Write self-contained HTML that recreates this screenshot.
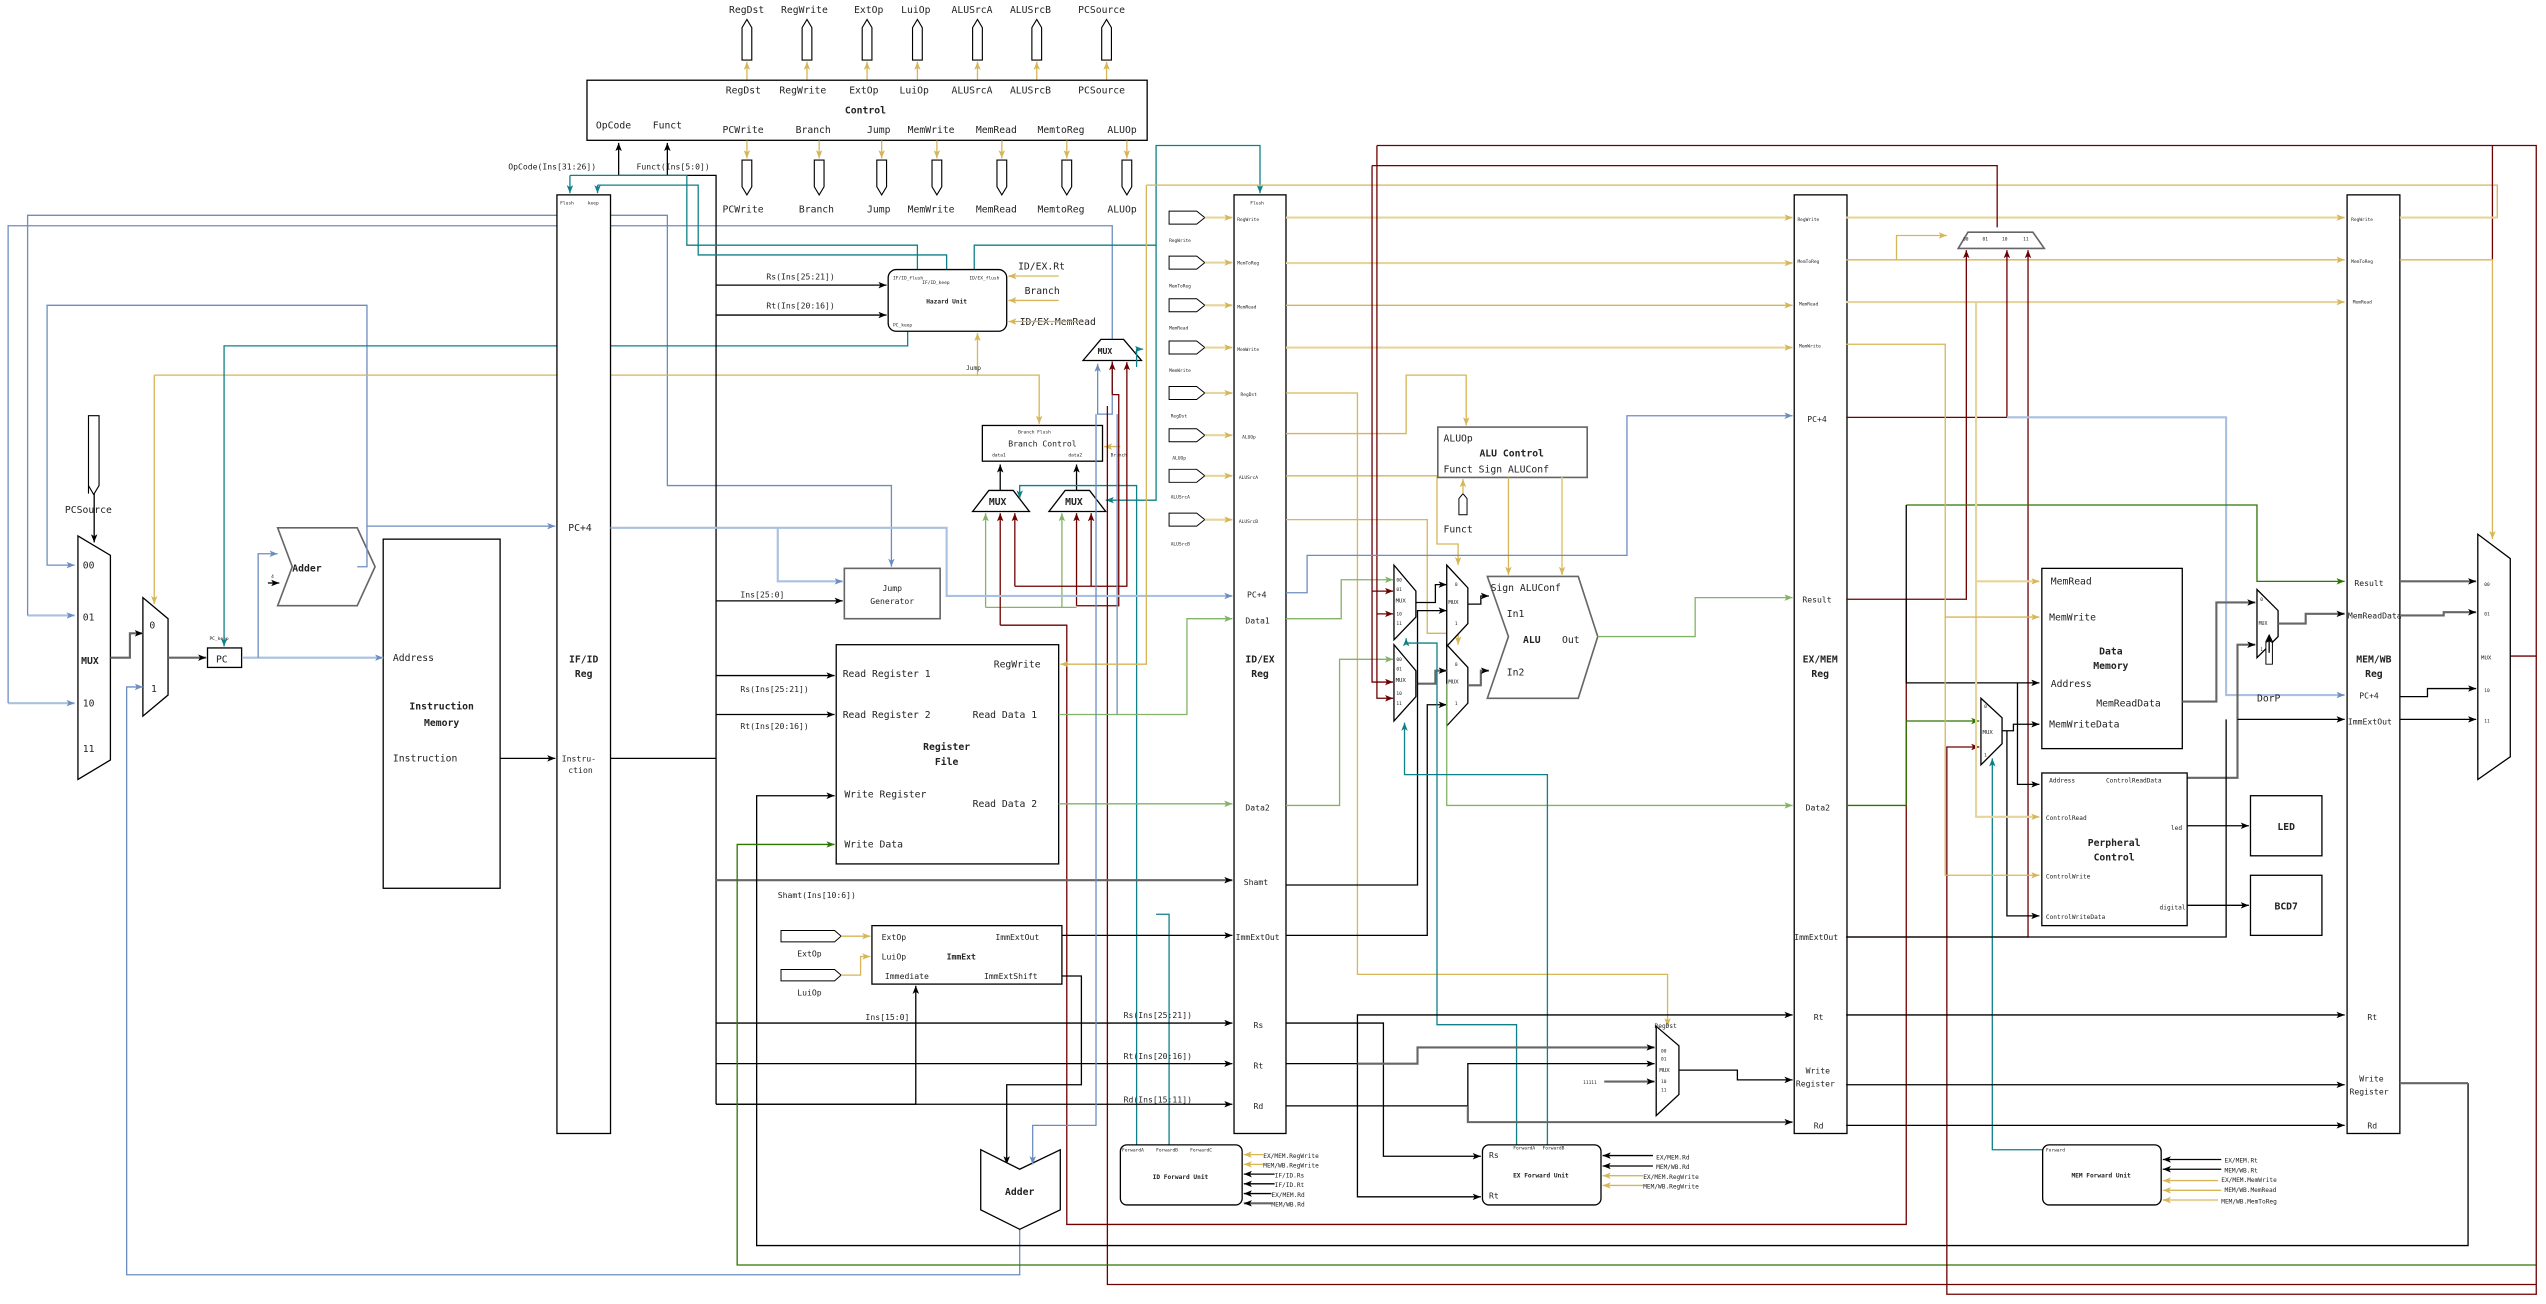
<!DOCTYPE html>
<html><head><meta charset="utf-8"><style>
html,body{margin:0;padding:0;background:#fff;}
svg{display:block;}
text{font-family:"DejaVu Sans Mono","Liberation Mono",monospace;fill:#222;}
.k{stroke:#000;fill:none;stroke-width:.8}
.kg{stroke:#666;fill:none;stroke-width:1.3}
.g{stroke:#d6b656;fill:none;stroke-width:.8}
.gl{stroke:#e6d49a;fill:none;stroke-width:1.3}
.b{stroke:#6c8ebf;fill:none;stroke-width:.8}
.bl{stroke:#a9c0e0;fill:none;stroke-width:1.3}
.t{stroke:#0e8088;fill:none;stroke-width:.8}
.r{stroke:#6f0000;fill:none;stroke-width:.8}
.gr{stroke:#82b366;fill:none;stroke-width:.8}
.dg{stroke:#2d7600;fill:none;stroke-width:.8}
.box{fill:#fff;stroke:#000;stroke-width:.8}
.boxg{fill:#fff;stroke:#666;stroke-width:1}
.s7{font-size:7px}.s6{font-size:6px}.s5{font-size:5px}.s4{font-size:3.8px}.s3{font-size:2.8px}
.bd{font-weight:bold}
</style></head><body>
<svg width="2546" height="1304" viewBox="0 0 1568 803" preserveAspectRatio="none" xmlns="http://www.w3.org/2000/svg">
<defs>
<marker id="ak" markerWidth="5" markerHeight="4" refX="5" refY="2" orient="auto" markerUnits="userSpaceOnUse"><path d="M0,0L5,2L0,4L1.2,2Z" fill="#000"/></marker>
<marker id="ag" markerWidth="5" markerHeight="4" refX="5" refY="2" orient="auto" markerUnits="userSpaceOnUse"><path d="M0,0L5,2L0,4L1.2,2Z" fill="#d6b656"/></marker>
<marker id="ab" markerWidth="5" markerHeight="4" refX="5" refY="2" orient="auto" markerUnits="userSpaceOnUse"><path d="M0,0L5,2L0,4L1.2,2Z" fill="#6c8ebf"/></marker>
<marker id="at" markerWidth="5" markerHeight="4" refX="5" refY="2" orient="auto" markerUnits="userSpaceOnUse"><path d="M0,0L5,2L0,4L1.2,2Z" fill="#0e8088"/></marker>
<marker id="ar" markerWidth="5" markerHeight="4" refX="5" refY="2" orient="auto" markerUnits="userSpaceOnUse"><path d="M0,0L5,2L0,4L1.2,2Z" fill="#6f0000"/></marker>
<marker id="agr" markerWidth="5" markerHeight="4" refX="5" refY="2" orient="auto" markerUnits="userSpaceOnUse"><path d="M0,0L5,2L0,4L1.2,2Z" fill="#82b366"/></marker>
<marker id="adg" markerWidth="5" markerHeight="4" refX="5" refY="2" orient="auto" markerUnits="userSpaceOnUse"><path d="M0,0L5,2L0,4L1.2,2Z" fill="#2d7600"/></marker>
</defs>

<!-- ===== Control unit ===== -->
<g class="s6">
<text x="449" y="8">RegDst</text><text x="481" y="8">RegWrite</text><text x="526" y="8">ExtOp</text><text x="555" y="8">LuiOp</text><text x="586" y="8">ALUSrcA</text><text x="622" y="8">ALUSrcB</text><text x="664" y="8">PCSource</text>
</g>
<g fill="#fff" stroke="#000" stroke-width=".7">
<path d="M457,37V17L460,12L463,17V37Z"/><path d="M494,37V17L497,12L500,17V37Z"/><path d="M531,37V17L534,12L537,17V37Z"/><path d="M562,37V17L565,12L568,17V37Z"/><path d="M599,37V17L602,12L605,17V37Z"/><path d="M635.5,37V17L638.5,12L641.5,17V37Z"/><path d="M678.5,37V17L681.5,12L684.5,17V37Z"/>
</g>
<g class="g">
<path d="M460,49V38" marker-end="url(#ag)"/><path d="M497,49V38" marker-end="url(#ag)"/><path d="M534,49V38" marker-end="url(#ag)"/><path d="M565,49V38" marker-end="url(#ag)"/><path d="M602,49V38" marker-end="url(#ag)"/><path d="M638.5,49V38" marker-end="url(#ag)"/><path d="M681.5,49V38" marker-end="url(#ag)"/>
</g>
<rect x="361.5" y="49.4" width="345" height="37" class="box"/>
<g class="s6">
<text x="447" y="57.5">RegDst</text><text x="480" y="57.5">RegWrite</text><text x="523" y="57.5">ExtOp</text><text x="554" y="57.5">LuiOp</text><text x="586" y="57.5">ALUSrcA</text><text x="622" y="57.5">ALUSrcB</text><text x="664" y="57.5">PCSource</text>
<text x="533" y="70" text-anchor="middle" class="bd">Control</text>
<text x="367" y="79">OpCode</text><text x="402" y="79">Funct</text>
<text x="445" y="82">PCWrite</text><text x="490" y="82">Branch</text><text x="534" y="82">Jump</text><text x="559" y="82">MemWrite</text><text x="601" y="82">MemRead</text><text x="639" y="82">MemtoReg</text><text x="682" y="82">ALUOp</text>
</g>
<g class="g">
<path d="M460,86.5V97.5" marker-end="url(#ag)"/><path d="M504.5,86.5V97.5" marker-end="url(#ag)"/><path d="M543,86.5V97.5" marker-end="url(#ag)"/><path d="M577,86.5V97.5" marker-end="url(#ag)"/><path d="M617,86.5V97.5" marker-end="url(#ag)"/><path d="M657,86.5V97.5" marker-end="url(#ag)"/><path d="M694,86.5V97.5" marker-end="url(#ag)"/>
</g>
<g fill="#fff" stroke="#000" stroke-width=".7">
<path d="M457,98.6H463V115L460,120L457,115Z"/><path d="M501.5,98.6H507.5V115L504.5,120L501.5,115Z"/><path d="M540,98.6H546V115L543,120L540,115Z"/><path d="M574,98.6H580V115L577,120L574,115Z"/><path d="M614,98.6H620V115L617,120L614,115Z"/><path d="M654,98.6H660V115L657,120L654,115Z"/><path d="M691,98.6H697V115L694,120L691,115Z"/>
</g>
<g class="s6">
<text x="445" y="131">PCWrite</text><text x="492" y="131">Branch</text><text x="534" y="131">Jump</text><text x="559" y="131">MemWrite</text><text x="601" y="131">MemRead</text><text x="639" y="131">MemtoReg</text><text x="682" y="131">ALUOp</text>
</g>
<text x="313" y="104.5" class="s5">OpCode(Ins[31:26])</text>
<text x="392" y="104.5" class="s5">Funct(Ins[5:0])</text>

<!-- ===== IF stage ===== -->
<path d="M54.5,304V256H61V299L57.7,304.5L54.5,299Z" fill="#fff" stroke="#000" stroke-width=".7"/>
<text x="40" y="316" class="s6">PCSource</text>
<path d="M58,304V334" class="k" marker-end="url(#ak)"/>
<path d="M48,330L68,342V468L48,480Z" class="box"/>
<g class="s6"><text x="51" y="350">00</text><text x="51" y="382">01</text><text x="50" y="409" class="bd">MUX</text><text x="51" y="435">10</text><text x="51" y="463">11</text></g>
<path d="M88,368L103.5,381V428L88,441Z" class="box"/>
<text x="92" y="387" class="s6">0</text><text x="93" y="426" class="s6">1</text>
<path d="M68,405H80V390H88" class="kg" marker-end="url(#ak)"/>
<path d="M103.5,405H127" class="kg" marker-end="url(#ak)"/>
<rect x="127.8" y="399" width="21" height="12" class="box"/>
<text x="133" y="408" class="s6">PC</text>
<text x="129" y="394" class="s3">PC_keep</text>
<path d="M171,325H220L231,349L220,373H171L180,349Z" class="boxg" stroke-width="1"/>
<text x="180" y="352" class="s6 bd">Adder</text>
<text x="167" y="356" class="s3">4</text>
<path d="M165,359H172" class="k" marker-end="url(#ak)"/>
<rect x="236" y="332" width="72" height="215" class="box"/>
<g class="s6"><text x="242" y="407">Address</text><text x="272" y="437" text-anchor="middle" class="bd">Instruction</text><text x="272" y="447" text-anchor="middle" class="bd">Memory</text><text x="242" y="469">Instruction</text></g>
<path d="M308,467H342" class="k" marker-end="url(#ak)"/>
<path d="M149,405H236" class="bl" marker-end="url(#ab)"/>
<path d="M159,405V341H171" class="b" marker-end="url(#ab)"/>
<path d="M220,349H226V188H29V348H46" class="b" marker-end="url(#ab)"/>
<path d="M226,324H342" class="b" marker-end="url(#ab)"/>
<path d="M17,379H46" class="bl" marker-end="url(#ab)"/>
<path d="M17,379V132.6H411V299H549V349" class="b" marker-end="url(#ab)"/>
<path d="M5,433H46" class="bl" marker-end="url(#ab)"/>
<path d="M5,433V139H685V255H676V224" class="b" marker-end="url(#ab)"/>
<path d="M628,757V785H78V423H88" class="b" marker-end="url(#ab)"/>
<path d="M95,231H640V261" class="g" marker-end="url(#ag)"/>
<path d="M95,231V372" class="g" marker-end="url(#ag)"/>
<path d="M559,204V213H138V398" class="t" marker-end="url(#at)"/>

<!-- ===== IF/ID ===== -->
<rect x="343" y="120" width="33" height="578" class="box"/>
<text x="345" y="126" class="s3">Flush</text><text x="362" y="126" class="s3">keep</text>
<text x="350" y="327" class="s6">PC+4</text>
<text x="359.5" y="408" class="s6 bd" text-anchor="middle">IF/ID</text><text x="359.5" y="417" class="s6 bd" text-anchor="middle">Reg</text>
<text x="346" y="469" class="s5">Instru-</text><text x="350" y="476" class="s5">ction</text>
<path d="M381,108V88" class="k" marker-end="url(#ak)"/><path d="M411,108V88" class="k" marker-end="url(#ak)"/>
<path d="M381,108H441V680" class="k"/>
<path d="M376,467H441" class="k" stroke-width="1.4"/>
<path d="M351,108V119" class="t" marker-end="url(#at)"/>
<path d="M351,108H423V151H565V166" class="t"/>
<path d="M368,114V119" class="t" marker-end="url(#at)"/>
<path d="M368,114H430V157H583V166" class="t"/>
<path d="M600,166V151H712V89.6H776V119" class="t" marker-end="url(#at)"/>

<!-- ===== ID stage ===== -->
<path d="M441,175.6H546" class="k" marker-end="url(#ak)"/>
<path d="M441,194H546" class="k" marker-end="url(#ak)"/>
<text x="472" y="172" class="s5">Rs(Ins[25:21])</text><text x="472" y="190" class="s5">Rt(Ins[20:16])</text>
<rect x="547" y="166" width="73" height="38" rx="5" class="box"/>
<text x="550" y="172" class="s3">IF/ID_flush</text><text x="568" y="175" class="s3">IF/ID_keep</text><text x="597" y="172" class="s3">ID/EX_flush</text>
<text x="583" y="187" class="s4 bd" text-anchor="middle" fill="#444">Hazard Unit</text>
<text x="550" y="201" class="s3">PC_keep</text>
<text x="627" y="166" class="s6">ID/EX.Rt</text><text x="631" y="181" class="s6">Branch</text><text x="628" y="200" class="s6">ID/EX.MemRead</text>
<path d="M652,170H621" class="gl" marker-end="url(#ag)"/>
<path d="M652,185H621" class="g" marker-end="url(#ag)"/>
<path d="M665,198H621" class="g" marker-end="url(#ag)"/>
<path d="M602,231V205" class="g" marker-end="url(#ag)"/>
<text x="595" y="228" class="s4">Jump</text>
<path d="M667,222L678,209H692L703,222Z" class="box"/>
<text x="676" y="218" class="s5 bd">MUX</text>
<rect x="605" y="262" width="74" height="22" class="box"/>
<text x="627" y="267" class="s3">Branch Flush</text>
<text x="642" y="275" class="s5" text-anchor="middle">Branch Control</text>
<text x="611" y="281" class="s3">data1</text><text x="658" y="281" class="s3">data2</text>
<path d="M690,275H680" class="g" marker-end="url(#ag)"/>
<text x="684" y="281" class="s3">Branch</text>
<path d="M599,315L609,302H624L634,315Z" class="box"/>
<text x="609" y="311" class="s6 bd">MUX</text>
<path d="M646,315L656,302H671L681,315Z" class="box"/>
<text x="656" y="311" class="s6 bd">MUX</text>
<path d="M616,302V286" class="k" marker-end="url(#ak)"/>
<path d="M663,302V286" class="k" marker-end="url(#ak)"/>
<path d="M700,705V299H628V307" class="t" marker-end="url(#at)"/>
<path d="M700,226V215H704" class="t" marker-end="url(#at)"/>
<path d="M712,151V308H681" class="t" marker-end="url(#at)"/>
<path d="M720,705V563H712" class="t"/>
<path d="M607,374V316" class="gr" marker-end="url(#agr)"/>
<path d="M607,374H663" class="gr"/>
<path d="M654,374V316" class="gr" marker-end="url(#agr)"/>
<path d="M625,361V316" class="r" marker-end="url(#ar)"/>
<path d="M625,361H694V223" class="r" marker-end="url(#ar)"/>
<path d="M672,361V316" class="r" marker-end="url(#ar)"/>
<path d="M663,373V316" class="r" marker-end="url(#ar)"/>
<path d="M685,243V223" class="r" marker-end="url(#ar)"/>
<path d="M616,385V316" class="r" marker-end="url(#ar)"/>
<path d="M685,243H689V373H663" class="r"/>
<path d="M682,250V791H1562" class="r"/>
<path d="M616,385H657V754H1174V369" class="r"/>
<path d="M688,440V255" class="b"/>
<rect x="520" y="350" width="59" height="31" class="boxg"/>
<text x="549.5" y="364" class="s5" text-anchor="middle">Jump</text><text x="549.5" y="372" class="s5" text-anchor="middle">Generator</text>
<path d="M441,370H519" class="k" marker-end="url(#ak)"/>
<text x="456" y="368" class="s5">Ins[25:0]</text>
<path d="M376,325H583V367H759" class="bl" marker-end="url(#ab)"/>
<path d="M479,325V358H519" class="bl" marker-end="url(#ab)"/>
<!-- Register file -->
<rect x="515" y="397" width="137" height="135" class="box"/>
<g class="s6">
<text x="519" y="417">Read Register 1</text><text x="612" y="411">RegWrite</text>
<text x="519" y="442">Read Register 2</text><text x="599" y="442">Read Data 1</text>
<text x="583" y="462" text-anchor="middle" class="bd">Register</text><text x="583" y="471" text-anchor="middle" class="bd">File</text>
<text x="520" y="491">Write Register</text><text x="599" y="497">Read Data 2</text><text x="520" y="522">Write Data</text>
</g>
<path d="M441,416H514" class="k" marker-end="url(#ak)"/>
<path d="M441,440H514" class="k" marker-end="url(#ak)"/>
<text x="456" y="426" class="s5">Rs(Ins[25:21])</text><text x="456" y="449" class="s5">Rt(Ins[20:16])</text>
<path d="M706,114V409H653" class="g" marker-end="url(#ag)"/>
<path d="M706,114H1538V134H1478" class="g"/>
<path d="M652,440H731V381H759" class="gr" marker-end="url(#agr)"/>
<path d="M652,495H759" class="gr" marker-end="url(#agr)"/>
<path d="M441,542H759" class="kg" marker-end="url(#ak)"/>
<text x="479" y="553" class="s5">Shamt(Ins[10:6])</text>
<!-- ImmExt -->
<path d="M481,573H514L518,576.5L514,580H481Z" fill="#fff" stroke="#000" stroke-width=".6"/>
<path d="M481,597H514L518,600.5L514,604H481Z" fill="#fff" stroke="#000" stroke-width=".6"/>
<text x="491" y="589" class="s5">ExtOp</text><text x="491" y="613" class="s5">LuiOp</text>
<path d="M518,576.5H536" class="g" marker-end="url(#ag)"/>
<path d="M518,600.5H530V589H536" class="g" marker-end="url(#ag)"/>
<rect x="537" y="570" width="117" height="36" class="box"/>
<g class="s5"><text x="543" y="579">ExtOp</text><text x="613" y="579">ImmExtOut</text><text x="543" y="591">LuiOp</text><text x="583" y="591" class="bd">ImmExt</text><text x="545" y="603">Immediate</text><text x="606" y="603">ImmExtShift</text></g>
<path d="M654,576H759" class="k" marker-end="url(#ak)"/>
<path d="M654,601H666V668H620V717" class="k" marker-end="url(#ak)"/>
<path d="M441,680H564V607" class="k" marker-end="url(#ak)"/>
<text x="533" y="628" class="s5">Ins[15:0]</text>
<path d="M441,630H759" class="k" marker-end="url(#ak)"/>
<path d="M441,655H759" class="k" marker-end="url(#ak)"/>
<path d="M441,680H759" class="k" marker-end="url(#ak)"/>
<text x="692" y="627" class="s5">Rs(Ins[25:21])</text><text x="692" y="652" class="s5">Rt(Ins[20:16])</text><text x="692" y="679" class="s5">Rd(Ins[15:11])</text>
<path d="M604,708L628,720L653,708V745L628,757L604,745Z" class="box"/>
<text x="628" y="736" class="s6 bd" text-anchor="middle">Adder</text>
<path d="M675,255V693H636V717" class="b" marker-end="url(#ab)"/>
<path d="M1520,667V767H466V490H514" class="k" marker-end="url(#ak)"/>
<path d="M1562,779H454V520H514" class="dg" marker-end="url(#adg)"/>
<!-- ID forward -->
<rect x="690" y="705" width="75" height="37" rx="4" class="box"/>
<text x="691" y="709" class="s3">ForwardA</text><text x="712" y="709" class="s3">ForwardB</text><text x="733" y="709" class="s3">ForwardC</text>
<text x="727" y="726" class="s4 bd" text-anchor="middle" fill="#444">ID Forward Unit</text>
<g class="s4"><text x="778" y="713">EX/MEM.RegWrite</text><text x="778" y="719">MEM/WB.RegWrite</text><text x="785" y="725">IF/ID.Rs</text><text x="785" y="731">IF/ID.Rt</text><text x="783" y="737">EX/MEM.Rd</text><text x="783" y="743">MEM/WB.Rd</text></g>
<path d="M778,711H766" class="g" marker-end="url(#ag)"/><path d="M778,717H766" class="g" marker-end="url(#ag)"/>
<path d="M785,723H766" class="k" marker-end="url(#ak)"/><path d="M785,729H766" class="k" marker-end="url(#ak)"/><path d="M783,735H766" class="k" marker-end="url(#ak)"/><path d="M783,741H766" class="kg" marker-end="url(#ak)"/>

<!-- ===== ID/EX ===== -->
<rect x="760" y="120" width="32" height="578" class="box"/>
<g fill="#fff" stroke="#000" stroke-width=".6">
<path d="M720,130H737L742,134L737,138H720Z"/><path d="M720,157.7H737L742,161.7L737,165.7H720Z"/><path d="M720,184H737L742,188L737,192H720Z"/><path d="M720,210H737L742,214L737,218H720Z"/><path d="M720,238H737L742,242L737,246H720Z"/><path d="M720,264H737L742,268L737,272H720Z"/><path d="M720,289H737L742,293L737,297H720Z"/><path d="M720,316H737L742,320L737,324H720Z"/>
</g>
<g class="s3"><text x="720" y="149">RegWrite</text><text x="720" y="177">MemToReg</text><text x="720" y="203">MemRead</text><text x="720" y="229">MemWrite</text><text x="721" y="257">RegDst</text><text x="722" y="283">ALUOp</text><text x="721" y="307">ALUSrcA</text><text x="721" y="336">ALUSrcB</text></g>
<g class="gl"><path d="M742,134H759" marker-end="url(#ag)"/><path d="M742,161.7H759" marker-end="url(#ag)"/><path d="M742,188H759" marker-end="url(#ag)"/><path d="M742,214H759" marker-end="url(#ag)"/><path d="M742,242H759" marker-end="url(#ag)"/><path d="M742,268H759" marker-end="url(#ag)"/><path d="M742,293H759" marker-end="url(#ag)"/><path d="M742,320H759" marker-end="url(#ag)"/></g>
<g class="s3"><text x="770" y="126">Flush</text><text x="762" y="136">RegWrite</text><text x="762" y="163">MemToReg</text><text x="762" y="190">MemRead</text><text x="762" y="216">MemWrite</text><text x="764" y="244">RegDst</text><text x="765" y="270">ALUOp</text><text x="763" y="295">ALUSrcA</text><text x="763" y="322">ALUSrcB</text></g>
<g class="s5"><text x="768" y="368">PC+4</text><text x="767" y="384">Data1</text><text x="767" y="499">Data2</text><text x="766" y="545">Shamt</text><text x="761" y="579">ImmExtOut</text><text x="772" y="633">Rs</text><text x="772" y="658">Rt</text><text x="772" y="683">Rd</text></g>
<text x="776" y="408" class="s6 bd" text-anchor="middle">ID/EX</text><text x="776" y="417" class="s6 bd" text-anchor="middle">Reg</text>

<!-- ===== EX stage ===== -->
<g class="gl"><path d="M792,134H1104" marker-end="url(#ag)"/><path d="M792,162H1104" marker-end="url(#ag)"/><path d="M792,214H1104" marker-end="url(#ag)"/></g>
<path d="M792,188H1104" class="g" marker-end="url(#ag)"/>
<path d="M792,242H836V600H1027V632" class="g" marker-end="url(#ag)"/>
<path d="M792,267H866V231H903V262" class="g" marker-end="url(#ag)"/>
<path d="M792,293H885V335H898V348" class="g" marker-end="url(#ag)"/>
<path d="M792,320H879V390H898V397" class="g" marker-end="url(#ag)"/>
<rect x="885.5" y="263" width="92" height="31" class="boxg"/>
<g class="s6"><text x="889" y="272">ALUOp</text><text x="931" y="281" text-anchor="middle" class="bd">ALU Control</text><text x="889" y="291">Funct Sign ALUConf</text></g>
<path d="M898.5,317V307L901,304L903.5,307V317Z" fill="#fff" stroke="#000" stroke-width=".6"/>
<text x="889" y="328" class="s6">Funct</text>
<path d="M901,304V295" class="g" marker-end="url(#ag)"/>
<path d="M929,294V354" class="g" marker-end="url(#ag)"/>
<path d="M962,294V354" class="gl" marker-end="url(#ag)"/>
<!-- ALU muxes -->
<path d="M858.5,348L872,364V380L858.5,394Z" class="box"/>
<path d="M858.5,397L872,413V429L858.5,444Z" class="box"/>
<path d="M891,348L904,362V384L891,398Z" class="box"/>
<path d="M891,397L904,411V433L891,447Z" class="box"/>
<g class="s3"><text x="860" y="358">00</text><text x="860" y="364">01</text><text x="859.5" y="371" font-size="3.5">MUX</text><text x="860" y="379">10</text><text x="860" y="385">11</text>
<text x="860" y="407">00</text><text x="860" y="413">01</text><text x="859.5" y="420" font-size="3.5">MUX</text><text x="860" y="428">10</text><text x="860" y="434">11</text>
<text x="896" y="361">0</text><text x="892" y="372" font-size="3.5">MUX</text><text x="896" y="385">1</text>
<text x="896" y="410">0</text><text x="892" y="421" font-size="3.5">MUX</text><text x="896" y="434">1</text></g>
<path d="M792,381H826V357H858" class="gr" marker-end="url(#agr)"/>
<path d="M792,496H825V406H858" class="gr" marker-end="url(#agr)"/>
<path d="M845,102V420H858" class="r" marker-end="url(#ar)"/>
<path d="M845,364H858" class="r" marker-end="url(#ar)"/>
<path d="M848,89.6V430H858" class="r" marker-end="url(#ar)"/>
<path d="M848,378H858" class="r" marker-end="url(#ar)"/>
<path d="M872,371H884V360H891" class="k" marker-end="url(#ak)"/>
<path d="M872,421H884V413H891" class="kg" marker-end="url(#ak)"/>
<path d="M792,545H873V376H891" class="k" marker-end="url(#ak)"/>
<path d="M792,576H879V434H891" class="k" marker-end="url(#ak)"/>
<path d="M904,372H912V367H917" class="k" marker-end="url(#ak)"/>
<path d="M904,422H912V413H917" class="kg" marker-end="url(#ak)"/>
<path d="M891,421V496H1104" class="gr" marker-end="url(#agr)"/>
<path d="M953,705V477H865V445" class="t" marker-end="url(#at)"/>
<path d="M934,705V631H885V396H866V393" class="t" marker-end="url(#at)"/>
<!-- ALU -->
<path d="M916,355H972L984,392L972,430H916L929,392Z" class="boxg"/>
<g class="s6"><text x="918" y="364">Sign ALUConf</text><text x="928" y="380">In1</text><text x="938" y="396" class="bd">ALU</text><text x="962" y="396">Out</text><text x="928" y="416">In2</text></g>
<path d="M984,392H1044V368H1104" class="gr" marker-end="url(#agr)"/>
<path d="M792,365H805V342H1002V256H1104" class="b" marker-end="url(#ab)"/>
<!-- RegDst mux -->
<path d="M1020,632L1034,644V674L1020,687Z" class="box"/>
<text x="1019" y="633" class="s4">RegDst</text>
<g class="s3"><text x="1023" y="648">00</text><text x="1023" y="653">01</text><text x="1022" y="660" font-size="3.5">MUX</text><text x="1023" y="667">10</text><text x="1023" y="672">11</text></g>
<path d="M792,630H852V712H912" class="k" marker-end="url(#ak)"/>
<path d="M792,655H836V625H1104" class="k" marker-end="url(#ak)"/>
<path d="M836,655V737H912" class="k" marker-end="url(#ak)"/>
<path d="M836,655H873V645H1019" class="kg" marker-end="url(#ak)"/>
<path d="M792,681H904V655H1019" class="k" marker-end="url(#ak)"/>
<path d="M904,681V691H1104" class="kg" marker-end="url(#ak)"/>
<path d="M988,666H1019" class="kg" marker-end="url(#ak)"/>
<text x="975" y="667.5" class="s3">11111</text>
<path d="M1034,659H1070V665H1104" class="k" marker-end="url(#ak)"/>
<!-- EX forward -->
<rect x="913" y="705" width="73" height="37" rx="4" class="box"/>
<text x="917" y="713" class="s5">Rs</text><text x="917" y="738" class="s5">Rt</text>
<text x="932" y="708" class="s3">ForwardA</text><text x="950" y="708" class="s3">ForwardB</text>
<text x="949" y="725" class="s4 bd" text-anchor="middle" fill="#444">EX Forward Unit</text>
<g class="s4"><text x="1020" y="714">EX/MEM.Rd</text><text x="1020" y="720">MEM/WB.Rd</text><text x="1012" y="726">EX/MEM.RegWrite</text><text x="1012" y="732">MEM/WB.RegWrite</text></g>
<path d="M1018,711.6H987" class="k" marker-end="url(#ak)"/><path d="M1018,718H987" class="k" marker-end="url(#ak)"/><path d="M1012,724H987" class="g" marker-end="url(#ag)"/><path d="M1012,730H987" class="g" marker-end="url(#ag)"/>

<!-- ===== EX/MEM ===== -->
<rect x="1105" y="120" width="32.5" height="578" class="box"/>
<g class="s3"><text x="1107" y="136">RegWrite</text><text x="1107" y="162">MemToReg</text><text x="1108" y="188">MemRead</text><text x="1108" y="214">MemWrite</text></g>
<g class="s5"><text x="1113" y="260">PC+4</text><text x="1110" y="371">Result</text><text x="1112" y="499">Data2</text><text x="1105" y="579">ImmExtOut</text><text x="1117" y="628">Rt</text><text x="1112" y="661">Write</text><text x="1106" y="669">Register</text><text x="1117" y="695">Rd</text></g>
<text x="1121" y="408" class="s6 bd" text-anchor="middle">EX/MEM</text><text x="1121" y="417" class="s6 bd" text-anchor="middle">Reg</text>

<!-- ===== MEM stage ===== -->
<path d="M1137,134H1444" class="gl" marker-end="url(#ag)"/>
<path d="M1137,160H1444" class="g" marker-end="url(#ag)"/>
<path d="M1137,186H1444" class="gl" marker-end="url(#ag)"/>
<path d="M1168,160V145H1199" class="g" marker-end="url(#ag)"/>
<path d="M1206,140L1212,130H1252L1259,140Z" class="boxg" transform="translate(0,13)"/>
<g class="s3"><text x="1209" y="148">00</text><text x="1221" y="148">01</text><text x="1233" y="148">10</text><text x="1246" y="148">11</text></g>
<path d="M1137,369H1174" class="r" stroke-width="1.4"/>
<path d="M1174,369H1211V154" class="r" marker-end="url(#ar)"/>
<path d="M1137,257H1236V154" class="r" stroke="#8a5a5a" stroke-width="1.2" marker-end="url(#ar)"/>
<path d="M1137,577H1249V154" class="r" marker-end="url(#ar)"/>
<path d="M1236,257H1371V428H1444" class="bl" marker-end="url(#ab)"/>
<path d="M1230,140V102H845" class="r"/>
<path d="M1546,404H1562V89.6H848" class="r" stroke-width="1.2"/>
<path d="M1535,89.6V160" class="r"/>
<path d="M1562,404V797H1199V460H1219" class="r" marker-end="url(#ar)"/>
<path d="M1174,311H1390V358H1444" class="dg" marker-end="url(#adg)"/>
<path d="M1174,311V420.5H1256" class="k" marker-end="url(#ak)"/>
<path d="M1242.5,420.5V483H1256" class="k" marker-end="url(#ak)"/>
<path d="M1137,496H1174V444H1219" class="dg" marker-end="url(#adg)"/>
<path d="M1220,430L1233,442V458L1220,471Z" class="box"/>
<text x="1222" y="436" class="s3">0</text><text x="1221" y="452" font-size="3.5">MUX</text><text x="1222" y="466" class="s3">1</text>
<path d="M1233,450H1240V446H1256" class="k" marker-end="url(#ak)"/>
<path d="M1236,450V564H1256" class="k" marker-end="url(#ak)"/>
<path d="M1258,708H1227V467" class="t" marker-end="url(#at)"/>
<path d="M1217,186V358H1256" class="gl" marker-end="url(#ag)"/>
<path d="M1217,358V503H1256" class="gl" marker-end="url(#ag)"/>
<path d="M1137,212H1198V380H1256" class="g" marker-end="url(#ag)"/>
<path d="M1198,380V539H1256" class="g" marker-end="url(#ag)"/>
<!-- Data memory -->
<rect x="1257.5" y="350" width="86.5" height="111" class="box"/>
<g class="s6"><text x="1263" y="360">MemRead</text><text x="1262" y="382">MemWrite</text><text x="1300" y="403" text-anchor="middle" class="bd">Data</text><text x="1300" y="412" text-anchor="middle" class="bd">Memory</text><text x="1263" y="423">Address</text><text x="1291" y="435">MemReadData</text><text x="1262" y="448">MemWriteData</text></g>
<path d="M1344,432H1365V371H1389" class="kg" marker-end="url(#ak)"/>
<path d="M1390,363L1403,376V392L1390,405Z" class="box"/>
<text x="1392" y="370" class="s3">0</text><text x="1391" y="385" font-size="3">MUX</text><text x="1392" y="401" class="s3">1</text>
<path d="M1395.5,409V395L1397.5,391L1399.5,395V409Z" fill="#fff" stroke="#000" stroke-width=".6"/>
<path d="M1397.5,391V402" class="k" marker-end="url(#ak)" transform="rotate(180 1397.5 396.5)"/>
<text x="1390" y="432" class="s6">DorP</text>
<path d="M1347,479H1378V397H1389" class="kg" marker-end="url(#ak)"/>
<path d="M1403,384H1420V378H1444" class="kg" marker-end="url(#ak)"/>
<path d="M1378,443H1444" class="k" marker-end="url(#ak)"/>
<!-- Peripheral -->
<rect x="1257.5" y="476" width="89.5" height="94" class="box"/>
<g class="s4"><text x="1262" y="482">Address</text><text x="1297" y="482">ControlReadData</text><text x="1260" y="505">ControlRead</text><text x="1337" y="511">led</text><text x="1260" y="541">ControlWrite</text><text x="1330" y="560">digital</text><text x="1260" y="566">ControlWriteData</text></g>
<text x="1302" y="521" class="s6 bd" text-anchor="middle">Perpheral</text><text x="1302" y="530" class="s6 bd" text-anchor="middle">Control</text>
<rect x="1386" y="490" width="44" height="37" class="box"/><text x="1408" y="511" class="s6 bd" text-anchor="middle">LED</text>
<rect x="1386" y="539" width="44" height="37" class="box"/><text x="1408" y="560" class="s6 bd" text-anchor="middle">BCD7</text>
<path d="M1347,508.5H1385" class="k" marker-end="url(#ak)"/>
<path d="M1347,557.5H1385" class="k" marker-end="url(#ak)"/>
<path d="M1137,577H1371V443" class="k"/>
<!-- MEM forward -->
<rect x="1258" y="705" width="73" height="37" rx="4" class="box"/>
<text x="1260" y="709" class="s3">Forward</text>
<text x="1294" y="725" class="s4 bd" text-anchor="middle" fill="#444">MEM Forward Unit</text>
<g class="s4"><text x="1370" y="716">EX/MEM.Rt</text><text x="1370" y="722">MEM/WB.Rt</text><text x="1368" y="728">EX/MEM.MemWrite</text><text x="1370" y="734">MEM/WB.MemRead</text><text x="1368" y="741">MEM/WB.MemToReg</text></g>
<path d="M1368,714H1332" class="k" marker-end="url(#ak)"/><path d="M1368,720H1332" class="k" marker-end="url(#ak)"/><path d="M1366,727H1332" class="g" marker-end="url(#ag)"/><path d="M1368,733H1332" class="g" marker-end="url(#ag)"/><path d="M1366,739H1332" class="gl" marker-end="url(#ag)"/>
<path d="M1137,625H1444" class="k" marker-end="url(#ak)"/>
<path d="M1137,668H1444" class="k" marker-end="url(#ak)"/>
<path d="M1137,693H1444" class="k" marker-end="url(#ak)"/>

<!-- ===== MEM/WB ===== -->
<rect x="1445.5" y="120" width="32.5" height="578" class="box"/>
<g class="s3"><text x="1448" y="136">RegWrite</text><text x="1448" y="162">MemToReg</text><text x="1449" y="187">MemRead</text></g>
<g class="s5"><text x="1450" y="361">Result</text><text x="1446" y="381">MemReadData</text><text x="1453" y="430">PC+4</text><text x="1446" y="446">ImmExtOut</text><text x="1458" y="628">Rt</text><text x="1453" y="666">Write</text><text x="1447" y="674">Register</text><text x="1458" y="695">Rd</text></g>
<text x="1462" y="408" class="s6 bd" text-anchor="middle">MEM/WB</text><text x="1462" y="417" class="s6 bd" text-anchor="middle">Reg</text>
<path d="M1478,160H1535V332" class="g" marker-end="url(#ag)"/>
<path d="M1478,134H1538" class="gl"/>
<path d="M1526,329L1546,344V466L1526,480Z" class="box"/>
<g class="s3"><text x="1530" y="361">00</text><text x="1530" y="379">01</text><text x="1528" y="406" font-size="3.5">MUX</text><text x="1530" y="426">10</text><text x="1530" y="445">11</text></g>
<path d="M1478,358H1525" class="kg" marker-end="url(#ak)"/>
<path d="M1478,379H1505V377H1525" class="kg" marker-end="url(#ak)"/>
<path d="M1478,429H1495V424H1525" class="k" marker-end="url(#ak)"/>
<path d="M1478,443H1525" class="k" marker-end="url(#ak)"/>
<path d="M1478,667H1520" class="kg"/>
</svg>
</body></html>
